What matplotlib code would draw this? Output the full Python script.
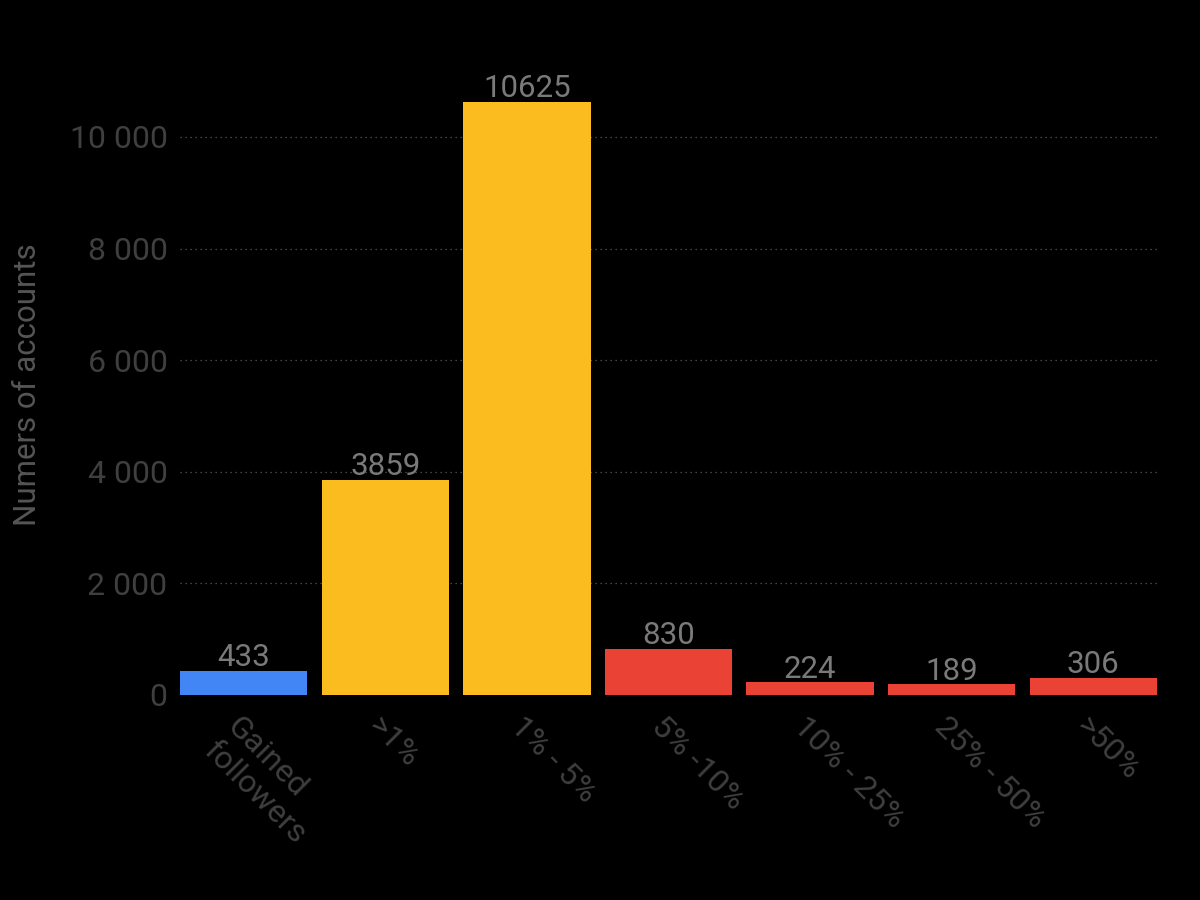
import matplotlib
matplotlib.use("Agg")
from matplotlib import pyplot as plt
from matplotlib.transforms import ScaledTranslation
import numpy as np

categories = ["Gained\nfollowers", ">1%", "1% - 5%", "5% -10%", "10% - 25%", "25% - 50%", ">50%"]
values = [433, 3859, 10625, 830, 224, 189, 306]
colors = ["#4285F4", "#FBBC1F", "#FBBC1F", "#EA4335", "#EA4335", "#EA4335", "#EA4335"]
yticks = [0, 2000, 4000, 6000, 8000, 10000]
ytick_labels = ["0", "2 000", "4 000", "6 000", "8 000", "10 000"]

plt.rcParams["font.family"] = ["Roboto", "DejaVu Sans"]

fig = plt.figure(figsize=(12, 9), dpi=100, facecolor="black")
ax = fig.add_axes([0.15, 0.2278, 0.8142, 0.713])
ax.set_facecolor("black")

x = np.arange(len(values))
rects = ax.bar(x, values, 0.9, color=colors, zorder=2)
ax.bar_label(rects, labels=[str(v) for v in values], padding=-1,
             color="#7a7a7a", fontsize=22.5)

ax.set_xlim(-0.45, len(values) - 0.55)
ax.set_ylim(0, 11500)

for y in yticks[1:]:
    ax.axhline(y, color="#5a5a5a", linestyle=(0, (1, 3)), linewidth=0.9, zorder=1)

ax.set_yticks(yticks, ytick_labels)
ax.tick_params(axis="y", length=0, pad=9, labelsize=23, labelcolor="#3f3f3f")
ax.tick_params(axis="x", length=0, pad=12, labelsize=23, labelcolor="#3f3f3f")
ax.set_xticks(x)
ax.set_xticklabels(categories, rotation=-45, ha="left", va="top",
                   rotation_mode="anchor", multialignment="left")
offset = ScaledTranslation(-2 / 100, 0, fig.dpi_scale_trans)
for lbl in ax.get_xticklabels():
    lbl.set_transform(lbl.get_transform() + offset)

ax.set_ylabel("Numers of accounts", fontsize=22.5, color="#555555")
ax.yaxis.set_label_coords(-0.141, 0.483)

for s in ax.spines.values():
    s.set_visible(False)

plt.savefig("out.png", facecolor="black")
